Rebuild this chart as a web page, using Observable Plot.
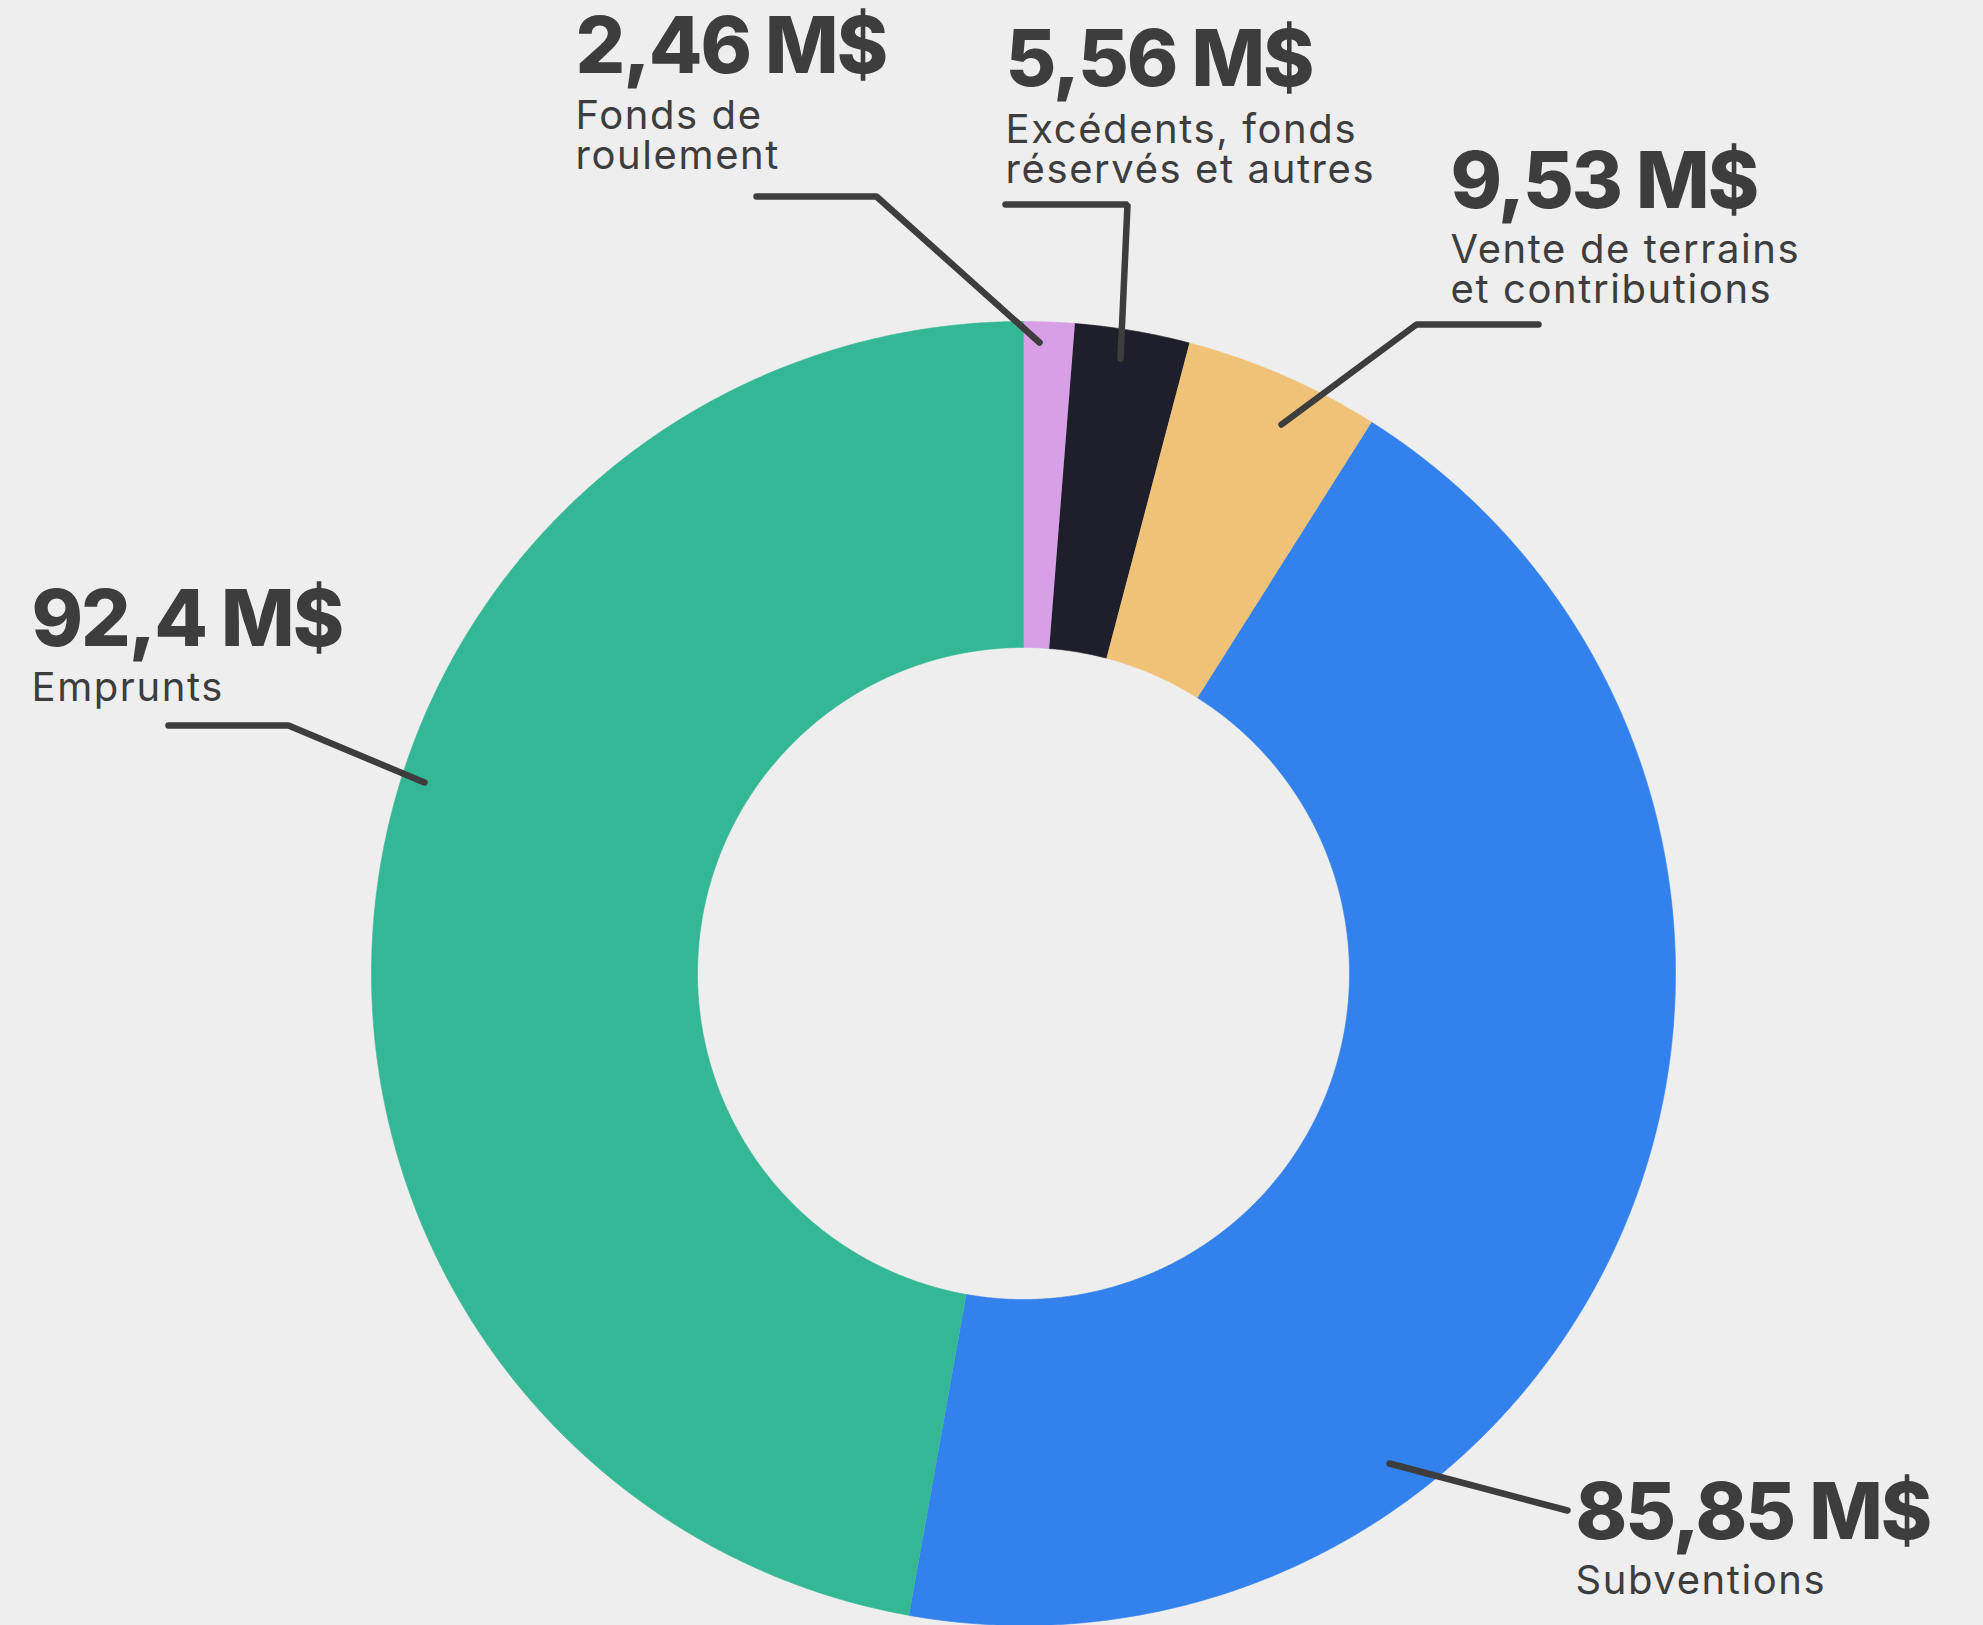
<!DOCTYPE html>
<html>
<head>
<meta charset="utf-8">
<script src="https://cdn.jsdelivr.net/npm/d3@7"></script>
<script src="https://cdn.jsdelivr.net/npm/@observablehq/plot@0.6"></script>
<style>
  html, body { margin: 0; padding: 0; background: #eeeeee; }
  #chart svg { display: block; }
</style>
</head>
<body>
<div id="chart"></div>
<script>
// ---- Data ----
const categories = ["Fonds de roulement", "Excédents, fonds réservés et autres", "Vente de terrains et contributions", "Subventions", "Emprunts"];
const values = [2.46, 5.56, 9.53, 85.85, 92.4];
const valueLabels = ["2,46 M$", "5,56 M$", "9,53 M$", "85,85 M$", "92,4 M$"];
const subLabels = ["Fonds de\nroulement", "Excédents, fonds\nréservés et autres", "Vente de terrains\net contributions", "Subventions", "Emprunts"];
const colors = ["#d69fe6", "#1e1f2a", "#f0c278", "#3281ec", "#34b794"];

// ---- Layout (pixels) ----
const W = 1983, H = 1625;
const cx = 1023, cy = 973, outerR = 652, innerR = 326;
// label anchor: [x, value baseline, subtitle last-line baseline]
const labelPos = [[575, 72, 168], [1005, 85, 182], [1450, 207, 302], [1575, 1538, 1593], [31, 645, 700]];
// leader polylines
const leaders = [
  [[756, 196], [876, 196], [1039, 342]],
  [[1005, 204], [1127, 204], [1120, 358]],
  [[1538, 324], [1416, 324], [1281, 424]],
  [[1389, 1463], [1567, 1510]],
  [[168, 725], [288, 725], [424, 782]]
];

// ---- Build slice polygons from data via d3.pie ----
const arcs = d3.pie().sort(null).startAngle(0).endAngle(2 * Math.PI)(values);
const slicePts = [];
arcs.forEach((a, i) => {
  const n = Math.max(8, Math.ceil((a.endAngle - a.startAngle) / 0.005));
  const pt = (r, t) => ({x: cx + r * Math.sin(t), y: cy - r * Math.cos(t), name: categories[i]});
  for (let k = 0; k <= n; k++) slicePts.push(pt(outerR, a.startAngle + (a.endAngle - a.startAngle) * k / n));
  for (let k = n; k >= 0; k--) slicePts.push(pt(innerR, a.startAngle + (a.endAngle - a.startAngle) * k / n));
});

const leaderPts = leaders.flatMap((pts, i) => pts.map(([x, y]) => ({x, y, name: categories[i]})));
const labels = categories.map((c, i) => ({
  name: c, value: valueLabels[i], sub: subLabels[i],
  x: labelPos[i][0], yv: labelPos[i][1], ys: labelPos[i][2]
}));

const textColor = "#3d3d3d";

const chart = Plot.plot({
  width: W,
  height: H,
  margin: 0,
  x: {domain: [0, W], range: [0, W], axis: null},
  y: {domain: [0, H], range: [0, H], axis: null},
  color: {domain: categories, range: colors},
  style: {background: "#eeeeee", fontFamily: "Inter, 'Noto Sans', sans-serif", overflow: "visible"},
  marks: [
    Plot.line(slicePts, {x: "x", y: "y", z: "name", fill: "name", stroke: "name", strokeWidth: 0.6, curve: "linear"}),
    Plot.line(leaderPts, {x: "x", y: "y", z: "name", stroke: textColor, strokeWidth: 6.5, strokeLinecap: "round", strokeLinejoin: "miter"}),
    Plot.text(labels, {x: "x", y: "yv", text: "value", textAnchor: "start", lineAnchor: "bottom", fontSize: 78, fontWeight: 800, fill: textColor}),
    Plot.text(labels, {x: "x", y: "ys", text: "sub", textAnchor: "start", lineAnchor: "bottom", fontSize: 40, fontWeight: 400, lineHeight: 1.0, fill: textColor})
  ]
});
const spacing = ["-2px", "1.6px"];
d3.select(chart).selectAll('g[aria-label="text"]').each(function(d, i) {
  d3.select(this).selectAll("text").style("letter-spacing", spacing[i] || null);
});
document.getElementById("chart").appendChild(chart);
</script>
</body>
</html>
